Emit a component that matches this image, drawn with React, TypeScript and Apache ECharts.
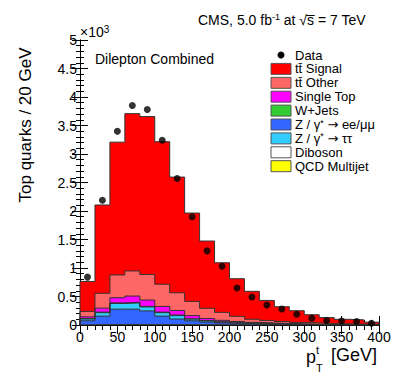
import React, { useEffect, useRef } from "react";
import * as echarts from "echarts";

// Bin lower edges (GeV), width 20 GeV
const binLow = [0, 20, 40, 60, 80, 100, 120, 140, 160, 180, 200, 220, 240, 260, 280, 300, 320, 340, 360, 380];
const binWidth = 20;

// Stack components (units of 10^3), bottom to top
const qcd = [0, 0, 0, 0, 0, 0, 0, 0, 0, 0, 0, 0, 0, 0, 0, 0, 0, 0, 0, 0];
const diboson = [0.004, 0.006, 0.008, 0.008, 0.007, 0.006, 0.005, 0.004, 0.003, 0.002, 0.002, 0.001, 0.001, 0.001, 0.001, 0, 0, 0, 0, 0];
const zee = [0.07, 0.15, 0.27, 0.27, 0.24, 0.15, 0.1, 0.07, 0.05, 0.035, 0.025, 0.018, 0.013, 0.01, 0.007, 0.005, 0.004, 0.003, 0.002, 0.002];
const ztautau = [0.03, 0.06, 0.1, 0.11, 0.07, 0.06, 0.06, 0.03, 0.02, 0.015, 0.01, 0.007, 0.007, 0.005, 0.003, 0.003, 0.002, 0.002, 0.002, 0.001];
const wjets = [0.01, 0.01, 0.01, 0.01, 0.01, 0.01, 0.01, 0.005, 0.005, 0.003, 0.003, 0.002, 0.002, 0.001, 0.001, 0.001, 0.001, 0.001, 0, 0];
const singleTop = [0.03, 0.07, 0.09, 0.11, 0.11, 0.1, 0.08, 0.055, 0.035, 0.027, 0.022, 0.018, 0.013, 0.009, 0.009, 0.006, 0.003, 0.002, 0.002, 0.001];
const ttOther = [0.095, 0.26, 0.4, 0.44, 0.45, 0.39, 0.31, 0.25, 0.18, 0.14, 0.09, 0.055, 0.045, 0.035, 0.025, 0.02, 0.015, 0.012, 0.009, 0.006];
const ttSignal = [0.525, 1.55, 2.33, 2.76, 2.77, 2.5, 2.03, 1.55, 1.18, 0.87, 0.66, 0.49, 0.35, 0.26, 0.205, 0.145, 0.105, 0.08, 0.075, 0.04];

// Data points (units of 10^3)
const dataCounts = [0.84, 2.19, 3.4, 3.85, 3.78, 3.24, 2.57, 1.9, 1.3, 1.03, 0.65, 0.49, 0.35, 0.28, 0.19, 0.12, 0.08, 0.07, 0.06, 0.03];

// Legend (top to bottom)
const legendNames = [
  "Data",
  "tt\u0304 Signal",
  "tt\u0304 Other",
  "Single Top",
  "W+Jets",
  "Z / \u03b3{s|*} {a|\u2192} ee/\u03bc\u03bc",
  "Z / \u03b3{s|*} {a|\u2192} \u03c4\u03c4",
  "Diboson",
  "QCD Multijet",
];
const legendColors = ["#000000", "#ff0000", "#ff6666", "#ff00ff", "#33cc33", "#3366ff", "#33ccff", "#ffffff", "#ffff00"];

// Axis ticks
const xTickStep = 50;
const yTickStep = 0.5;

const FONT = "'Liberation Sans', Arial, Helvetica, sans-serif";

export default function App() {
  const ref = useRef<HTMLDivElement>(null);

  useEffect(() => {
    if (!ref.current) return;
    const chart = echarts.init(ref.current, undefined, { renderer: "svg" });

    const layers = [
      { values: qcd, color: "#ffff00" },
      { values: diboson, color: "#ffffff" },
      { values: zee, color: "#3366ff" },
      { values: ztautau, color: "#33ccff" },
      { values: wjets, color: "#33cc33" },
      { values: singleTop, color: "#ff00ff" },
      { values: ttOther, color: "#ff6666" },
      { values: ttSignal, color: "#ff0000" },
    ];
    const cum: number[][] = [];
    let run = binLow.map(() => 0);
    layers.forEach((l) => {
      run = run.map((v, i) => v + l.values[i]);
      cum.push(run.slice());
    });

    const stepPoints = (tops: number[]) => {
      const pts: number[][] = [[binLow[0], 0]];
      binLow.forEach((x, i) => pts.push([x, tops[i]]));
      const last = binLow[binLow.length - 1] + binWidth;
      pts.push([last, tops[tops.length - 1]]);
      pts.push([last, 0]);
      return pts;
    };

    const areaSeries: any[] = [];
    for (let k = layers.length - 1; k >= 0; k--) {
      areaSeries.push({
        type: "line",
        step: "end",
        data: stepPoints(cum[k]),
        showSymbol: false,
        symbol: "none",
        lineStyle: { color: "#333333", width: 1 },
        areaStyle: { color: layers[k].color, opacity: 1 },
        silent: true,
        z: 2,
      });
    }

    const rowY0 = 55;
    const rowStep = 13.9;
    const legendGraphics: any[] = [];
    legendNames.forEach((name, i) => {
      const y = rowY0 + i * rowStep;
      if (i === 0) {
        legendGraphics.push({
          type: "circle",
          shape: { cx: 281, cy: y, r: 3.5 },
          style: { fill: "#000" },
        });
      } else {
        legendGraphics.push({
          type: "rect",
          shape: { x: 271, y: y - 5.5, width: 20, height: 11 },
          style: { fill: legendColors[i], stroke: "#555", lineWidth: 1 },
        });
      }
      legendGraphics.push({
        type: "text",
        x: 295,
        y: y,
        style: {
          text: name,
          fontSize: 13,
          fontFamily: FONT,
          fill: "#000",
          verticalAlign: "middle",
          align: "left",
          lineHeight: 13,
          rich: {
            s: { fontSize: 9, verticalAlign: "top", fontFamily: FONT, lineHeight: 13 },
            a: { fontSize: 13, fontFamily: "'DejaVu Sans', sans-serif", lineHeight: 13 },
          },
        },
      });
    });

    const axisCommon = {
      type: "value" as const,
      axisLine: { show: true, lineStyle: { color: "#000", width: 1 } },
      splitLine: { show: false },
    };

    chart.setOption({
      animation: false,
      backgroundColor: "#fff",
      grid: { left: 80, right: 20, top: 40, bottom: 58, containLabel: false },
      xAxis: [
        {
          ...axisCommon,
          min: 0,
          max: 400,
          interval: xTickStep,
          position: "bottom",
          axisTick: { show: true, inside: true, length: 9, lineStyle: { color: "#000" } },
          minorTick: { show: true, splitNumber: 5, length: 5, lineStyle: { color: "#000" } },
          axisLabel: { show: true, fontSize: 14, color: "#000", fontFamily: FONT, margin: 5 },
        },
        {
          ...axisCommon,
          min: 0,
          max: 400,
          interval: xTickStep,
          position: "top",
          axisTick: { show: true, inside: true, length: 9, lineStyle: { color: "#000" } },
          minorTick: { show: true, splitNumber: 5, length: 5, lineStyle: { color: "#000" } },
          axisLabel: { show: false },
        },
      ],
      yAxis: [
        {
          ...axisCommon,
          min: 0,
          max: 5,
          interval: yTickStep,
          position: "left",
          axisTick: { show: true, inside: true, length: 8, lineStyle: { color: "#000" } },
          minorTick: { show: true, splitNumber: 5, length: 4, lineStyle: { color: "#000" } },
          axisLabel: { show: true, fontSize: 14, color: "#000", fontFamily: FONT, margin: 3 },
        },
        {
          ...axisCommon,
          min: 0,
          max: 5,
          interval: yTickStep,
          position: "right",
          axisTick: { show: true, inside: true, length: 8, lineStyle: { color: "#000" } },
          minorTick: { show: true, splitNumber: 5, length: 4, lineStyle: { color: "#000" } },
          axisLabel: { show: false },
        },
      ],
      series: [
        ...areaSeries,
        {
          type: "scatter",
          data: binLow.map((x, i) => [x + binWidth / 2, dataCounts[i]]),
          symbol: "circle",
          symbolSize: 7,
          itemStyle: { color: "#000" },
          z: 5,
          silent: true,
        },
      ],
      graphic: [
        {
          type: "text",
          x: 198,
          y: 20,
          style: {
            text: "CMS, 5.0 fb{s|-1} at \u221as\u0305 = 7 TeV",
            fontSize: 14,
            fontFamily: FONT,
            fill: "#000",
            verticalAlign: "middle",
            lineHeight: 16,
            rich: { s: { fontSize: 9, verticalAlign: "top", fontFamily: FONT, lineHeight: 16 } },
          },
        },
        {
          type: "text",
          x: 80,
          y: 32,
          style: {
            text: "\u00d710{s|3}",
            fontSize: 14,
            fontFamily: FONT,
            fill: "#000",
            verticalAlign: "middle",
            lineHeight: 16,
            rich: { s: { fontSize: 10, verticalAlign: "top", fontFamily: FONT, lineHeight: 16 } },
          },
        },
        {
          type: "text",
          x: 95,
          y: 59,
          style: { text: "Dilepton Combined", fontSize: 14, fontFamily: FONT, fill: "#000", verticalAlign: "middle" },
        },
        {
          type: "text",
          x: 25,
          y: 125,
          rotation: Math.PI / 2,
          style: {
            text: "Top quarks / 20 GeV",
            fontSize: 17,
            fontFamily: FONT,
            fill: "#000",
            align: "center",
            verticalAlign: "middle",
          },
        },
        {
          type: "text",
          x: 306,
          y: 357,
          style: { text: "p", fontSize: 18, fontFamily: FONT, fill: "#000", verticalAlign: "middle" },
        },
        {
          type: "text",
          x: 316,
          y: 350,
          style: { text: "t", fontSize: 11, fontFamily: FONT, fill: "#000", verticalAlign: "middle" },
        },
        {
          type: "text",
          x: 316,
          y: 368,
          style: { text: "T", fontSize: 11, fontFamily: FONT, fill: "#000", verticalAlign: "middle" },
        },
        {
          type: "text",
          x: 377,
          y: 355,
          style: { text: "[GeV]", fontSize: 18, fontFamily: FONT, fill: "#000", align: "right", verticalAlign: "middle" },
        },
        ...legendGraphics,
      ],
    });

    return () => chart.dispose();
  }, []);

  return (
    <div
      ref={ref}
      style={{ position: "fixed", left: 0, top: 0, width: 399, height: 383, background: "#fff" }}
    />
  );
}
